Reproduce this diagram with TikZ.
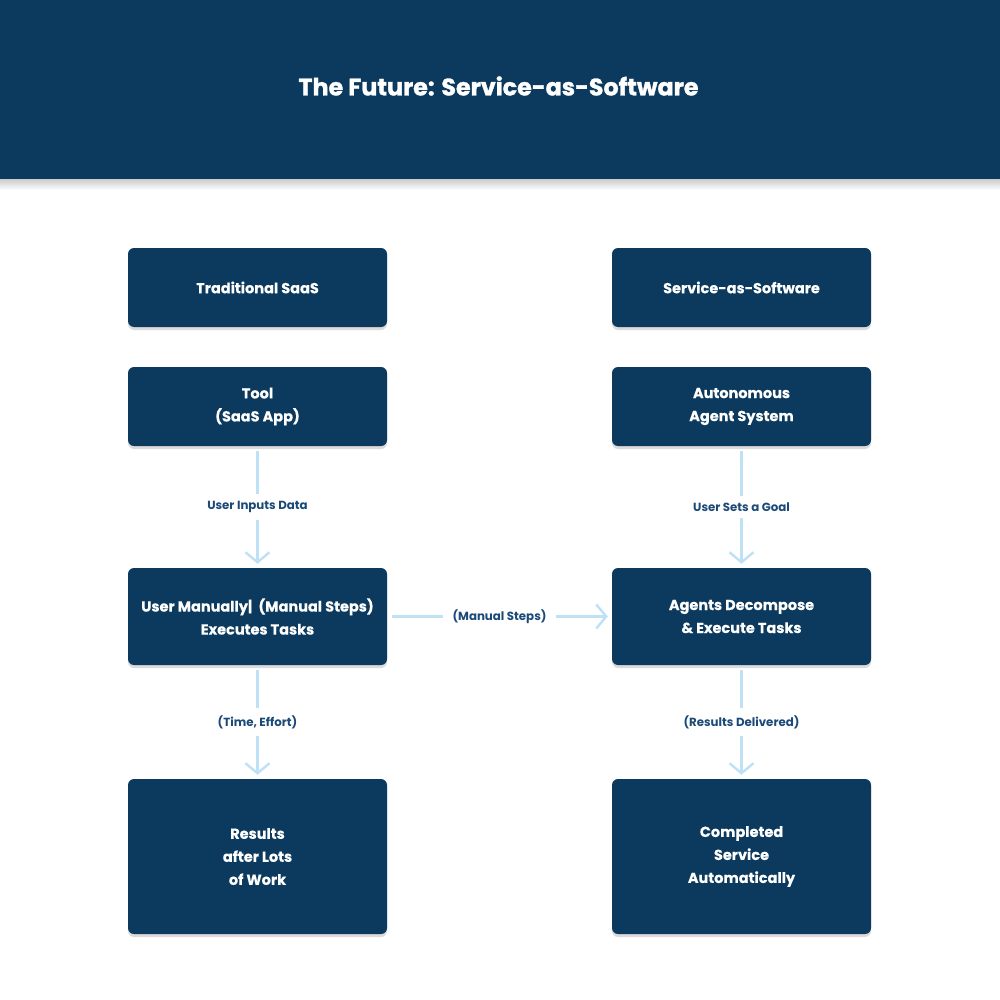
\documentclass[tikz,border=0pt]{standalone}
\usepackage{fontspec}
\setmainfont{Poppins}
\newfontfamily\titlefont[FakeBold=1.3]{Poppins}
\newfontfamily\boxfont[FakeBold=0.25]{Poppins}
\usetikzlibrary{arrows.meta,shadows}
\definecolor{navy}{HTML}{0B3A5E}
\definecolor{arrowblue}{HTML}{BFE1F6}
\definecolor{labelblue}{HTML}{1C4A78}
\tikzset{
  box/.style={rectangle, rounded corners=6pt, fill=navy, text=white,
    font=\boxfont\fontsize{14.5}{23}\selectfont\bfseries, align=center,
    minimum width=259pt, inner sep=0pt,
    drop shadow={opacity=0.28, shadow xshift=0pt, shadow yshift=-3pt}},
  conn/.style={draw=arrowblue, line width=2.6pt, shorten <=5pt, shorten >=4pt,
    -{Straight Barb[length=10pt, width=24pt, line width=2.4pt]}},
  lbl/.style={fill=white, text=labelblue, font=\fontsize{11.8}{13}\selectfont\bfseries, inner sep=7pt}
}
\begin{document}
\begin{tikzpicture}[x=1pt,y=-1pt]
\useasboundingbox (0,0) rectangle (1000,1000);
\fill[white] (0,0) rectangle (1000,1000);
\shade[top color=black!22, bottom color=white] (0,178) rectangle (1000,190);
\node[rectangle, fill=navy, minimum width=1000pt, minimum height=179pt, inner sep=0pt, anchor=north west] (header) at (0,0) {};
\node[text=white, font=\titlefont\fontsize{23.8}{28}\selectfont\bfseries] (title) at (498.5,86) {The Future: Service-as-Software};

\node[box, minimum height=79pt] (l1) at (257.5,287.5) {Traditional SaaS};
\node[box, minimum height=79pt] (r1) at (741.5,287.5) {Service-as-Software};
\node[box, minimum height=79pt] (l2) at (257.5,406.5) {Tool\\(SaaS App)};
\node[box, minimum height=79pt] (r2) at (741.5,406.5) {Autonomous\\Agent System};
\node[box, minimum height=97pt] (l3) at (257.5,616.5) {User Manually|\ \ (Manual Steps)\\Executes Tasks};
\node[box, minimum height=97pt] (r3) at (741.5,616.5) {Agents Decompose\\\& Execute Tasks};
\node[box, minimum height=155pt] (l4) at (257.5,856.5) {Results\\after Lots\\of Work};
\node[box, minimum height=155pt] (r4) at (741.5,856.5) {Completed\\Service\\Automatically};

\draw[conn] (l2.south) -- node[lbl] {User Inputs Data} (l3.north);
\draw[conn] (r2.south) -- node[lbl] {User Sets a Goal} (r3.north);
\draw[conn] (l3.south) -- node[lbl] {(Time, Effort)} (l4.north);
\draw[conn] (r3.south) -- node[lbl] {(Results Delivered)} (r4.north);
\draw[conn] (l3.east) -- node[lbl, inner xsep=10pt] {(Manual Steps)} (r3.west);
\end{tikzpicture}
\end{document}
